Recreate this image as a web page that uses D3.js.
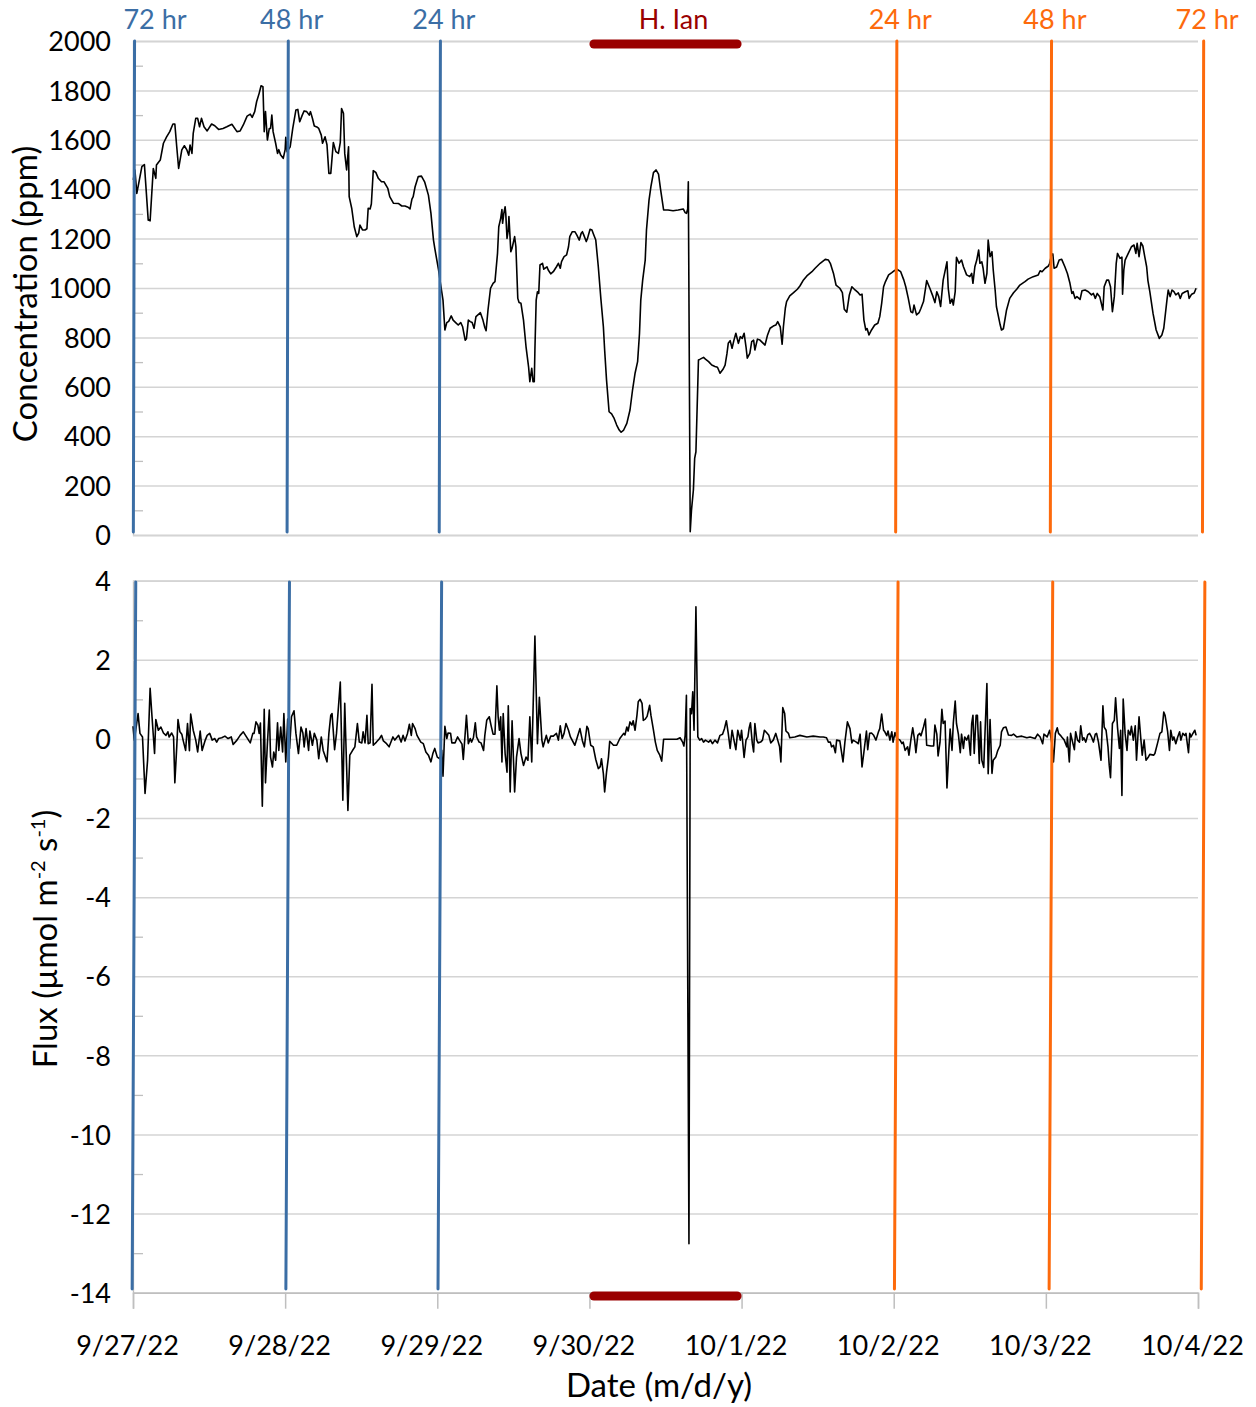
<!DOCTYPE html>
<html>
<head>
<meta charset="utf-8">
<script src="https://cdn.jsdelivr.net/npm/d3@7"></script>
<style>
body { margin: 0; background: #fff; }
text { font-family: Lato, "Open Sans", sans-serif; fill: #000; }
</style>
</head>
<body>
<div id="viz"></div>
<script>
// hours after 9/27/22 00:00
var dayLabels = ["9/27/22", "9/28/22", "9/29/22", "9/30/22", "10/1/22", "10/2/22", "10/3/22", "10/4/22"];
var concTicks = [0, 200, 400, 600, 800, 1000, 1200, 1400, 1600, 1800, 2000];
var fluxTicks = [-14, -12, -10, -8, -6, -4, -2, 0, 2, 4];

var eventLabels = ["72 hr", "48 hr", "24 hr", "24 hr", "48 hr", "72 hr"];
var eventHours = [0.15, 24.4, 48.4, 120.4, 144.8, 168.8];
var eventSide = ["before", "before", "before", "after", "after", "after"];
var stormName = "H. Ian";
var stormHours = [72, 96];

var concData = [
[0.05,1438],[0.3,1478],[0.6,1383],[1.0,1437],[1.4,1491],[1.8,1500],[2.4,1275],[2.7,1272],[3.2,1484],[3.6,1444],[3.7,1498],[4.3,1518],[4.8,1586],[5.3,1612],[5.8,1633],[6.3,1664],[6.6,1664],[6.9,1572],[7.2,1484],[7.7,1559],[8.1,1576],[8.5,1559],[8.8,1538],[9.0,1579],[9.3,1545],[9.5,1626],[9.9,1687],[10.2,1687],[10.5,1653],[10.8,1687],[11.2,1653],[11.7,1636],[12.4,1664],[12.9,1657],[13.5,1642],[14.2,1646],[14.8,1653],[15.6,1663],[16.4,1633],[16.9,1636],[17.4,1660],[18.0,1696],[18.5,1704],[18.8,1691],[19.2,1714],[19.5,1754],[19.9,1788],[20.2,1819],[20.5,1815],[20.7,1633],[20.9,1714],[21.2,1599],[21.5,1646],[21.7,1646],[21.9,1700],[22.1,1633],[22.5,1586],[22.8,1545],[23.0,1560],[23.3,1538],[23.7,1525],[24.0,1560],[24.1,1610],[24.3,1552],[24.8,1572],[25.2,1646],[25.7,1721],[26.0,1723],[26.3,1673],[26.7,1700],[27.0,1717],[27.4,1714],[27.8,1700],[28.0,1714],[28.3,1687],[28.6,1656],[29.0,1652],[29.3,1646],[29.7,1619],[29.9,1586],[30.3,1612],[30.6,1580],[30.9,1464],[31.2,1464],[31.6,1589],[32.0,1552],[32.4,1545],[32.7,1590],[32.9,1727],[33.2,1707],[33.4,1545],[33.7,1478],[34.0,1572],[34.1,1370],[34.5,1323],[34.9,1248],[35.3,1208],[35.6,1222],[35.8,1255],[36.2,1235],[36.6,1235],[36.9,1240],[37.1,1323],[37.4,1320],[37.6,1340],[37.9,1475],[38.3,1468],[38.7,1444],[39.2,1430],[39.6,1430],[40.2,1403],[40.5,1370],[41.1,1343],[41.9,1342],[42.4,1332],[42.9,1332],[43.4,1327],[43.7,1320],[44.0,1360],[44.2,1370],[44.5,1410],[45.0,1451],[45.5,1453],[46.0,1430],[46.6,1376],[47.0,1302],[47.4,1194],[47.6,1161],[48.2,1073],[48.5,1019],[48.9,951],[49.2,830],[49.5,860],[49.8,865],[50.2,887],[50.5,870],[50.9,860],[51.3,850],[51.7,860],[52.0,843],[52.4,789],[52.6,795],[52.9,870],[53.2,864],[53.5,860],[53.8,837],[54.1,884],[54.5,893],[54.8,900],[55.2,870],[55.5,840],[55.7,827],[56.0,911],[56.4,999],[56.8,1019],[57.1,1026],[57.5,1140],[57.7,1248],[58.0,1282],[58.2,1318],[58.3,1262],[58.5,1302],[58.7,1329],[58.8,1302],[59.0,1201],[59.2,1235],[59.3,1289],[59.6,1147],[59.8,1161],[60.2,1208],[60.4,1167],[60.7,958],[60.9,941],[61.2,938],[61.6,870],[62.0,762],[62.4,681],[62.6,621],[62.9,675],[63.1,621],[63.3,621],[63.4,749],[63.6,951],[63.8,985],[64.0,978],[64.2,1093],[64.6,1100],[64.8,1076],[65.3,1086],[65.5,1073],[65.9,1057],[66.3,1066],[66.8,1086],[67.1,1100],[67.4,1080],[67.6,1107],[68.0,1127],[68.4,1134],[68.7,1167],[68.9,1208],[69.3,1228],[69.7,1228],[70.0,1215],[70.4,1194],[70.7,1222],[70.9,1228],[71.1,1215],[71.5,1188],[71.7,1201],[72.1,1238],[72.4,1235],[72.6,1221],[73.0,1194],[73.4,1086],[73.8,958],[74.2,843],[74.4,749],[74.7,627],[75.1,499],[75.5,490],[75.9,472],[76.3,445],[76.7,425],[77.0,416],[77.4,425],[77.9,452],[78.4,506],[78.8,587],[79.2,655],[79.6,702],[79.9,817],[80.1,951],[80.4,1032],[80.8,1113],[81.0,1235],[81.4,1356],[81.7,1410],[82.1,1467],[82.5,1478],[82.9,1461],[83.2,1403],[83.7,1316],[84.4,1316],[85.2,1313],[86.0,1316],[86.8,1320],[87.1,1305],[87.3,1302],[87.5,1320],[87.6,1430],[87.9,13],[88.1,101],[88.4,182],[88.6,310],[88.8,337],[89.2,709],[89.4,711],[90.0,719],[90.3,712],[90.8,702],[91.3,688],[91.8,682],[92.2,679],[92.6,655],[93.1,672],[93.4,688],[93.7,735],[93.9,776],[94.2,787],[94.5,756],[94.8,789],[95.1,817],[95.5,776],[95.8,803],[96.1,796],[96.4,817],[96.7,762],[96.9,716],[97.3,735],[97.6,783],[97.9,789],[98.1,749],[98.5,793],[98.9,789],[99.3,779],[99.7,769],[100.1,810],[100.5,837],[101.0,846],[101.4,850],[101.7,864],[102.1,843],[102.4,772],[102.6,843],[102.9,918],[103.1,945],[103.6,968],[104.2,981],[104.8,995],[105.2,1008],[105.7,1030],[106.3,1049],[107.1,1066],[107.6,1080],[108.4,1100],[109.2,1116],[109.7,1113],[110.0,1100],[110.5,1059],[110.9,1012],[111.5,999],[111.9,981],[112.2,914],[112.6,902],[113.0,972],[113.4,1005],[113.9,992],[114.4,981],[114.7,972],[115.0,975],[115.3,870],[115.6,830],[115.8,836],[116.1,810],[116.5,830],[117.0,850],[117.5,857],[117.8,884],[118.1,938],[118.4,1005],[118.7,1026],[119.2,1053],[119.7,1062],[120.1,1070],[120.5,1076],[121.1,1066],[121.6,1032],[121.9,1005],[122.3,958],[122.7,904],[123.0,900],[123.2,931],[123.6,891],[124.0,900],[124.3,918],[124.7,945],[125.2,1030],[125.7,999],[126.2,965],[126.5,941],[126.8,985],[127.1,965],[127.4,925],[127.8,1032],[128.4,1106],[128.6,999],[128.9,938],[129.2,955],[129.4,931],[129.7,985],[129.9,1124],[130.3,1100],[130.7,1113],[131.0,1086],[131.5,1053],[132.0,1046],[132.3,1059],[132.5,1019],[132.8,1086],[133.1,1113],[133.4,1154],[133.6,1100],[133.9,1106],[134.1,1080],[134.4,1019],[134.7,1059],[134.9,1194],[135.2,1127],[135.5,1147],[135.7,1073],[136.0,992],[136.2,925],[136.8,850],[137.0,830],[137.3,835],[137.8,911],[138.3,958],[138.9,981],[139.4,995],[139.9,1012],[140.7,1026],[141.2,1036],[142.0,1046],[142.8,1053],[143.1,1070],[143.4,1066],[143.9,1080],[144.4,1089],[144.6,1100],[144.9,1134],[145.1,1138],[145.3,1080],[145.7,1085],[146.1,1113],[146.5,1116],[147.0,1086],[147.4,1059],[147.8,1019],[148.1,978],[148.3,985],[148.6,958],[148.9,965],[149.4,954],[149.7,989],[150.2,992],[150.7,985],[151.2,972],[151.5,978],[151.8,958],[152.1,978],[152.5,965],[153.0,911],[153.2,1005],[153.6,1032],[153.9,1032],[154.2,1005],[154.5,904],[154.8,965],[155.1,1100],[155.3,1140],[155.7,1120],[156.0,1125],[156.1,975],[156.3,1073],[156.5,1113],[157.0,1140],[157.5,1167],[157.9,1174],[158.2,1140],[158.4,1181],[158.7,1127],[159.0,1184],[159.3,1170],[159.6,1127],[159.9,1086],[160.1,1030],[160.4,985],[160.9,898],[161.4,830],[161.9,796],[162.3,810],[162.6,837],[163.1,951],[163.3,992],[163.6,965],[163.9,992],[164.2,985],[164.5,972],[164.9,980],[165.2,958],[165.5,978],[166.0,985],[166.4,989],[166.6,958],[167.0,975],[167.4,980],[167.7,999]
];

var fluxData = [
[0.0,0.32],[0.2,-0.03],[0.5,0.30],[0.8,0.64],[1.1,0.14],[1.5,0.05],[1.9,-1.38],[2.3,-0.54],[2.7,1.28],[3.0,0.56],[3.4,-0.37],[3.6,0.49],[4.0,0.22],[4.4,0.30],[4.8,0.15],[5.2,0.09],[5.5,0.18],[5.7,0.05],[6.1,0.15],[6.4,0.05],[6.6,-1.11],[6.9,-0.20],[7.1,0.49],[7.4,0.18],[7.7,0.12],[7.9,-0.03],[8.3,-0.29],[8.6,0.39],[8.9,-0.30],[9.1,0.63],[9.5,0.22],[9.9,-0.03],[10.2,-0.33],[10.6,0.20],[10.9,-0.29],[11.4,-0.03],[11.7,0.09],[12.1,0.14],[12.5,-0.03],[12.9,0.01],[13.2,-0.08],[13.5,0.01],[14.0,0.03],[14.5,0.07],[15.0,0.01],[15.5,0.05],[15.8,-0.14],[16.4,-0.03],[16.9,0.09],[17.4,0.18],[17.9,0.05],[18.5,-0.10],[18.9,0.14],[19.1,0.14],[19.4,0.43],[19.7,0.35],[19.9,0.14],[20.1,0.40],[20.4,-1.70],[20.7,0.75],[20.9,-1.11],[21.2,-0.12],[21.5,0.73],[21.7,-0.46],[22.0,-0.71],[22.2,-0.33],[22.5,-0.54],[22.8,0.41],[23.0,-0.29],[23.3,0.30],[23.6,-0.33],[23.8,0.64],[24.1,-0.58],[24.4,0.50],[24.7,-0.24],[25.0,0.56],[25.4,0.71],[25.7,0.14],[26.1,-0.37],[26.5,0.30],[26.8,0.15],[27.0,-0.20],[27.3,0.26],[27.7,-0.29],[27.9,0.20],[28.3,-0.16],[28.6,0.14],[29.0,-0.03],[29.3,-0.50],[29.7,0.05],[30.0,-0.29],[30.6,-0.58],[30.9,0.14],[31.2,0.60],[31.4,0.64],[31.8,-0.27],[32.1,0.14],[32.7,1.44],[33.1,-1.55],[33.4,0.90],[33.9,-1.81],[34.2,-0.41],[34.6,-0.30],[35.0,-0.20],[35.4,0.39],[35.7,-0.08],[36.1,-0.10],[36.3,0.18],[36.6,-0.10],[36.9,0.60],[37.1,-0.12],[37.4,-0.10],[37.7,1.38],[37.9,-0.16],[38.4,-0.08],[38.9,0.01],[39.2,0.09],[39.5,-0.05],[40.0,-0.12],[40.4,-0.20],[41.0,0.05],[41.3,-0.03],[41.9,0.09],[42.3,-0.08],[42.6,0.09],[42.9,-0.05],[43.3,0.14],[43.6,0.37],[43.9,0.09],[44.1,0.39],[44.5,0.26],[44.8,0.09],[45.4,-0.08],[45.8,-0.12],[46.2,-0.33],[46.6,-0.41],[47.0,-0.58],[47.3,-0.37],[47.6,-0.24],[48.0,-0.46],[48.4,-0.50],[48.7,-0.29],[48.9,-0.94],[49.2,0.32],[49.5,0.01],[49.7,0.15],[50.1,0.14],[50.3,-0.10],[50.8,-0.10],[51.2,0.05],[51.5,-0.03],[51.9,-0.13],[52.1,-0.52],[52.4,0.14],[52.6,0.60],[52.9,-0.12],[53.2,0.01],[53.4,-0.08],[53.7,0.03],[54.0,0.41],[54.2,0.05],[54.6,-0.08],[54.9,-0.10],[55.3,-0.29],[55.5,0.09],[55.8,0.47],[56.2,0.56],[56.5,0.33],[56.8,0.12],[57.1,0.12],[57.4,1.34],[57.6,0.56],[57.8,0.22],[58.0,0.56],[58.2,-0.58],[58.4,0.64],[58.7,-0.37],[59.0,-0.84],[59.2,0.84],[59.5,-1.34],[59.8,0.46],[60.2,-1.34],[60.5,-0.46],[60.9,0.01],[61.2,-0.37],[61.6,-0.67],[62.0,-0.46],[62.3,-0.54],[62.6,0.56],[62.9,-0.58],[63.4,2.60],[63.8,-0.12],[64.1,1.05],[64.5,-0.03],[64.7,-0.20],[65.2,0.09],[65.5,-0.10],[65.9,0.07],[66.3,0.07],[66.8,0.14],[67.1,-0.03],[67.4,0.33],[67.7,0.01],[68.0,0.14],[68.3,0.39],[68.7,0.22],[69.0,0.05],[69.7,-0.16],[70.1,0.05],[70.5,0.26],[70.9,-0.05],[71.2,-0.20],[71.6,0.32],[71.8,0.26],[72.2,-0.16],[72.6,-0.20],[73.0,-0.52],[73.4,-0.75],[73.7,-0.70],[73.9,-0.50],[74.2,-0.88],[74.4,-1.34],[74.7,-0.84],[75.0,-0.46],[75.2,-0.06],[75.8,-0.16],[76.3,-0.16],[76.8,0.01],[77.4,0.14],[77.6,0.10],[77.9,0.30],[78.1,0.20],[78.4,0.43],[78.7,0.35],[78.9,0.46],[79.2,0.22],[79.5,0.60],[79.7,0.94],[80.0,1.00],[80.3,0.90],[80.5,0.47],[80.8,0.50],[81.1,0.57],[81.5,0.85],[81.7,0.60],[82.1,0.22],[82.4,-0.08],[82.7,-0.29],[83.1,-0.41],[83.4,-0.56],[83.7,-0.01],[84.7,-0.01],[85.8,-0.01],[86.3,0.03],[86.7,-0.08],[86.9,-0.18],[87.1,0.09],[87.3,1.10],[87.7,-12.76],[87.9,0.77],[88.1,0.64],[88.3,1.19],[88.5,0.22],[88.8,3.34],[89.1,0.05],[89.4,-0.03],[89.7,0.01],[90.0,-0.08],[90.3,-0.03],[90.8,-0.08],[91.1,-0.03],[91.4,-0.12],[91.8,-0.03],[92.2,-0.10],[92.6,0.09],[93.0,0.12],[93.3,0.26],[93.6,0.46],[93.9,0.14],[94.2,-0.24],[94.5,0.22],[94.8,-0.03],[95.1,-0.27],[95.4,0.22],[95.8,-0.03],[96.0,0.22],[96.4,-0.47],[96.7,-0.03],[97.0,0.05],[97.2,0.28],[97.4,0.41],[97.7,-0.12],[97.9,-0.33],[98.1,0.39],[98.4,-0.03],[98.6,-0.10],[99.0,-0.08],[99.3,-0.03],[99.6,0.22],[100.0,0.15],[100.3,0.09],[100.6,-0.10],[101.0,-0.03],[101.4,0.14],[101.7,-0.03],[102.0,-0.20],[102.2,-0.58],[102.5,0.79],[102.8,0.64],[103.0,0.20],[103.4,0.14],[103.6,0.03],[104.4,0.05],[105.2,0.09],[106.3,0.05],[107.3,0.07],[108.4,0.05],[108.9,0.05],[109.4,0.03],[109.7,-0.08],[110.0,-0.08],[110.2,-0.20],[110.5,-0.16],[110.8,-0.35],[111.0,-0.03],[111.5,-0.05],[112.0,-0.58],[112.3,-0.08],[112.7,0.43],[113.1,0.26],[113.4,-0.10],[113.6,-0.03],[114.1,-0.08],[114.4,-0.12],[114.7,0.12],[115.0,-0.71],[115.3,-0.33],[115.7,0.20],[115.9,-0.27],[116.2,0.14],[116.5,0.15],[116.8,0.10],[117.2,-0.03],[117.6,0.18],[117.8,0.26],[118.1,0.63],[118.4,0.22],[118.6,0.18],[118.9,0.08],[119.1,0.20],[119.4,-0.03],[119.7,0.18],[119.9,-0.08],[120.2,0.16],[120.5,0.01],[121.0,-0.03],[121.3,-0.12],[121.5,-0.08],[121.8,-0.29],[122.2,-0.20],[122.4,-0.41],[122.7,-0.03],[123.0,0.28],[123.3,-0.03],[123.5,-0.35],[123.8,0.09],[124.1,0.14],[124.3,0.08],[124.7,0.30],[125.0,0.50],[125.2,-0.16],[125.9,-0.18],[126.3,-0.18],[126.5,0.35],[126.8,0.12],[127.0,-0.43],[127.3,-0.09],[127.6,0.75],[127.8,0.39],[128.1,0.45],[128.4,-1.24],[128.7,-0.29],[128.9,0.25],[129.2,-0.29],[129.4,0.40],[129.7,0.96],[129.9,0.39],[130.2,0.12],[130.5,-0.35],[130.7,0.12],[131.0,-0.24],[131.2,0.05],[131.5,-0.03],[131.8,0.09],[132.1,-0.41],[132.3,0.39],[132.5,0.60],[132.7,-0.37],[133.0,0.60],[133.2,0.60],[133.5,-0.62],[133.7,0.43],[133.9,-0.54],[134.2,-0.72],[134.4,0.15],[134.7,1.40],[134.9,-0.88],[135.2,0.49],[135.5,-0.87],[135.7,-0.54],[136.1,-0.46],[136.4,-0.30],[136.8,-0.16],[137.0,0.18],[137.3,0.28],[137.7,0.30],[138.1,0.10],[138.6,0.09],[138.9,0.12],[139.4,0.05],[140.2,0.07],[141.0,0.03],[141.5,0.05],[142.3,0.01],[142.7,0.12],[143.1,0.05],[143.5,-0.12],[143.7,0.12],[144.2,0.05],[144.6,0.22],[145.0,-0.16],[145.2,-0.58],[145.5,0.14],[145.8,0.28],[146.0,0.14],[146.3,0.09],[146.5,0.05],[146.9,-0.03],[147.3,-0.20],[147.4,0.05],[147.7,-0.58],[147.9,0.14],[148.2,-0.07],[148.5,-0.27],[148.7,0.18],[149.0,-0.03],[149.3,-0.08],[149.5,0.33],[149.8,-0.03],[150.0,0.03],[150.3,-0.08],[150.6,0.10],[150.9,0.14],[151.2,0.05],[151.5,-0.08],[151.8,0.12],[152.0,0.14],[152.3,-0.08],[152.7,-0.54],[153.0,0.84],[153.2,0.30],[153.5,0.22],[153.8,-0.20],[154.0,-0.67],[154.2,-0.98],[154.5,0.39],[154.8,0.47],[155.0,1.04],[155.3,0.30],[155.6,-0.24],[155.8,0.22],[156.0,-1.43],[156.2,1.01],[156.5,0.14],[156.8,-0.29],[157.0,0.22],[157.3,0.10],[157.5,0.32],[157.8,-0.03],[158.1,0.33],[158.3,-0.54],[158.7,0.56],[159.0,-0.03],[159.2,-0.41],[159.5,-0.03],[159.8,-0.54],[160.2,-0.45],[160.4,-0.39],[161.0,-0.41],[161.2,-0.37],[161.6,-0.12],[162.0,0.14],[162.3,0.18],[162.6,0.68],[162.8,0.60],[163.2,0.20],[163.5,-0.29],[163.7,0.22],[164.0,-0.03],[164.2,0.05],[164.5,-0.12],[164.8,0.05],[165.1,0.18],[165.3,-0.03],[165.6,0.14],[165.9,0.09],[166.1,0.14],[166.5,-0.35],[166.7,0.14],[166.9,0.05],[167.2,0.14],[167.5,0.22],[167.7,0.09]
];

var width = 1256;
var height = 1407;
var blue = "#3b6ea5";
var orange = "#fd6a0c";
var darkRed = "#9a0000";
var gridColor = "#d4d4d4";
var axisColor = "#bfbfbf";

var start = new Date(2022, 8, 27);
function toDate(h) {
    return new Date(start.getTime() + h * 3600000);
}

var svg = d3
    .select("#viz")
    .append("svg")
    .attr("width", width)
    .attr("height", height);

var x = d3.scaleTime()
    .domain([toDate(0), toDate(168)])
    .range([133, 1198]);
var yConc = d3.scaleLinear().domain([0, 2000]).range([535, 41]);
var yFlux = d3.scaleLinear().domain([-14, 4]).range([1292.7, 580.7]);

var dayTicks = dayLabels.map(function (d, i) { return toDate(24 * i); });

function oddSteps(ticks) {
    var out = [];
    for (var i = 0; i < ticks.length - 1; i++) out.push((ticks[i] + ticks[i + 1]) / 2);
    return out;
}

function add_grid(y, ticks) {
    var g = svg.append("g").attr("transform", "translate(133,0)");
    g.call(d3.axisLeft(y).tickValues(oddSteps(ticks)).tickSize(-10).tickFormat(""));
    g.select(".domain").remove();
    g.selectAll("line").attr("stroke", axisColor).attr("stroke-width", 1.3);

    var m = svg.append("g").attr("transform", "translate(133,0)");
    m.call(d3.axisLeft(y).tickValues(ticks).tickSize(-1065).tickPadding(22)
        .tickFormat(function (d) { return String(d); }));
    m.select(".domain").attr("stroke", axisColor).attr("stroke-width", 1.3);
    m.selectAll(".tick line").attr("stroke", gridColor).attr("stroke-width", 1.5);
    m.selectAll(".tick text")
        .attr("font-size", 27)
        .attr("font-family", "Lato, sans-serif")
        .attr("fill", "#000")
        .attr("dy", "0.36em");
}

add_grid(yConc, concTicks);
add_grid(yFlux, fluxTicks);

// bottom date axis
var xa = svg.append("g")
    .attr("transform", "translate(0," + yFlux(-14) + ")")
    .call(d3.axisBottom(x).tickValues(dayTicks).tickSize(16)
        .tickFormat(function (d, i) { return dayLabels[i]; }));
xa.select(".domain").attr("stroke", axisColor).attr("stroke-width", 1.5);
xa.selectAll(".tick line").attr("stroke", axisColor).attr("stroke-width", 1.5);
xa.selectAll(".tick text")
    .attr("font-size", 27)
    .attr("font-family", "Lato, sans-serif")
    .attr("fill", "#000")
    .attr("x", -6)
    .attr("y", 62)
    .attr("dy", 0);

// series
var concLine = d3.line()
    .x(function (d) { return x(toDate(d[0])); })
    .y(function (d) { return yConc(d[1]); });
var fluxLine = d3.line()
    .x(function (d) { return x(toDate(d[0])); })
    .y(function (d) { return yFlux(d[1]); });

svg.append("path")
    .datum(concData)
    .attr("d", concLine)
    .attr("fill", "none")
    .attr("stroke", "#000")
    .attr("stroke-width", 1.6)
    .attr("stroke-linejoin", "round");
svg.append("path")
    .datum(fluxData)
    .attr("d", fluxLine)
    .attr("fill", "none")
    .attr("stroke", "#000")
    .attr("stroke-width", 1.6)
    .attr("stroke-linejoin", "round");

// event markers (hand drawn lines lean a little)
function add_event(h, label, side) {
    var color = side == "before" ? blue : orange;
    var xm = x(toDate(h));
    svg.append("line")
        .attr("x1", xm + 0.6).attr("y1", 41)
        .attr("x2", xm - 0.6).attr("y2", 532)
        .attr("stroke", color).attr("stroke-width", 3).attr("stroke-linecap", "round");
    svg.append("line")
        .attr("x1", xm + 1.8).attr("y1", 582)
        .attr("x2", xm - 1.8).attr("y2", 1289)
        .attr("stroke", color).attr("stroke-width", 3).attr("stroke-linecap", "round");
    svg.append("text")
        .attr("x", Math.max(xm + 4, 155))
        .attr("y", 29)
        .attr("text-anchor", "middle")
        .attr("font-size", 27)
        .style("fill", color)
        .text(label);
}

eventHours.forEach(function (h, i) {
    add_event(h, eventLabels[i], eventSide[i]);
});

// storm period bars
var s0 = x(toDate(stormHours[0])) + 4.5;
var s1 = x(toDate(stormHours[1])) - 4.5;
[44, 1296].forEach(function (yy) {
    svg.append("line")
        .attr("x1", s0).attr("x2", s1)
        .attr("y1", yy).attr("y2", yy)
        .attr("stroke", darkRed)
        .attr("stroke-width", 9)
        .attr("stroke-linecap", "round");
});
svg.append("text")
    .attr("x", (s0 + s1) / 2 + 8)
    .attr("y", 29)
    .attr("text-anchor", "middle")
    .attr("font-size", 27)
    .style("fill", darkRed)
    .text(stormName);

// axis titles
svg.append("text")
    .attr("transform", "translate(37," + 294 + ") rotate(-90)")
    .attr("text-anchor", "middle")
    .attr("font-size", 33)
    .text("Concentration (ppm)");

var ft = svg.append("text")
    .attr("transform", "translate(57," + 939 + ") rotate(-90)")
    .attr("text-anchor", "middle")
    .attr("font-size", 33);
ft.append("tspan").text("Flux (\u00b5mol m");
ft.append("tspan").attr("font-size", 20).attr("dy", -12).text("-2");
ft.append("tspan").attr("dy", 12).text(" s");
ft.append("tspan").attr("font-size", 20).attr("dy", -12).text("-1");
ft.append("tspan").attr("dy", 12).text(")");

svg.append("text")
    .attr("x", 659)
    .attr("y", 1397)
    .attr("text-anchor", "middle")
    .attr("font-size", 33)
    .text("Date (m/d/y)");
</script>
</body>
</html>
